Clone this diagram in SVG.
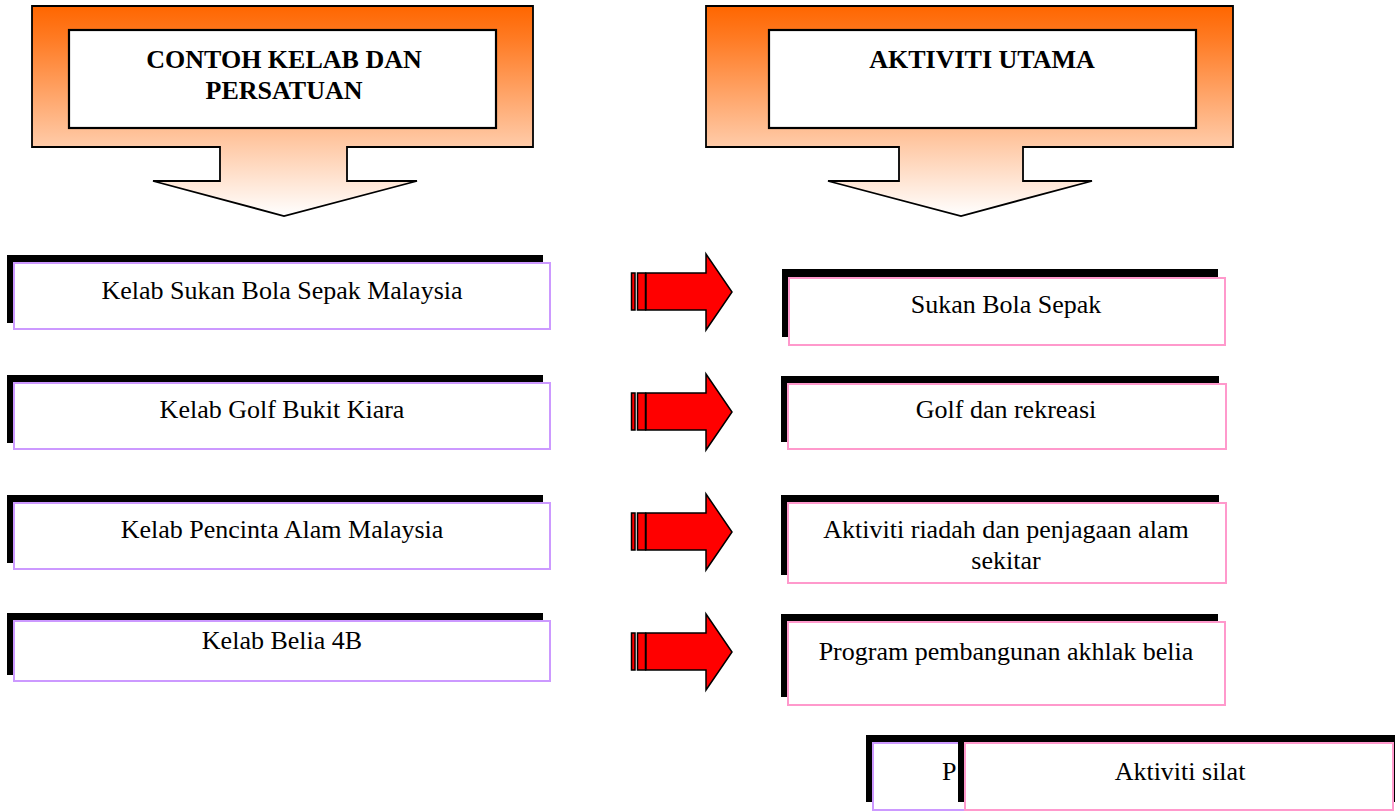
<svg xmlns="http://www.w3.org/2000/svg" width="1395" height="811" viewBox="0 0 1395 811">
<style>
.hdr{fill:url(#og);stroke:#000;stroke-width:1.8}
.inner{fill:#fff;stroke:#000;stroke-width:2.2}
.ht{font-family:"Liberation Serif","Times New Roman",serif;font-weight:bold;font-size:26px;fill:#000;text-anchor:middle}
.t{font-family:"Liberation Serif","Times New Roman",serif;font-size:26px;fill:#000;text-anchor:middle}
.sh{fill:#000}
.lb{fill:#fff;stroke:#CC99FF;stroke-width:2}
.rb{fill:#fff;stroke:#FF99CC;stroke-width:2}
.ra{fill:#FF0000;stroke:#000;stroke-width:1.5}
</style>
<defs>
<linearGradient id="og" x1="0" y1="6" x2="0" y2="216" gradientUnits="userSpaceOnUse">
<stop offset="0" stop-color="#FF6600"/>
<stop offset="0.15" stop-color="#FF7A22"/>
<stop offset="1" stop-color="#FFFFFF"/>
</linearGradient>
<g id="arrow">
<rect class="ra" x="631.5" y="273" width="3.5" height="37"/>
<rect class="ra" x="637.5" y="273" width="8" height="37"/>
<path class="ra" d="M646,273 H706 V254 L732,292 L706,330 V310 H646 Z"/>
</g>
</defs>

<g id="header-left">
<path class="hdr" d="M32,6 H533 V147 H347 V181 H417 L284,216 L153,181 H220 V147 H32 Z"/>
<rect class="inner" x="69" y="30" width="427" height="98"/>
<text class="ht" x="284" y="68">CONTOH KELAB DAN</text>
<text class="ht" x="284" y="99">PERSATUAN</text>
</g>

<g id="header-right">
<path class="hdr" d="M706,6 H1233 V147 H1023 V181 H1092 L961,216 L828,181 H899 V147 H706 Z"/>
<rect class="inner" x="769" y="30" width="427" height="98"/>
<text class="ht" x="982" y="68">AKTIVITI UTAMA</text>
</g>

<g id="connectors">
<use href="#arrow"/>
<use href="#arrow" y="120"/>
<use href="#arrow" y="240"/>
<use href="#arrow" y="360"/>
</g>

<g id="left1">
<rect class="sh" x="7" y="255" width="536" height="68"/>
<rect class="lb" x="14" y="263" width="536" height="66"/>
<text class="t" x="282" y="299">Kelab Sukan Bola Sepak Malaysia</text>
</g>
<g id="left2">
<rect class="sh" x="7" y="375" width="536" height="68"/>
<rect class="lb" x="14" y="383" width="536" height="66"/>
<text class="t" x="282" y="418">Kelab Golf Bukit Kiara</text>
</g>
<g id="left3">
<rect class="sh" x="7" y="495" width="536" height="68"/>
<rect class="lb" x="14" y="503" width="536" height="66"/>
<text class="t" x="282" y="538">Kelab Pencinta Alam Malaysia</text>
</g>
<g id="left4">
<rect class="sh" x="7" y="613" width="536" height="62"/>
<rect class="lb" x="14" y="621" width="536" height="60"/>
<text class="t" x="282" y="649">Kelab Belia 4B</text>
</g>

<g id="right1">
<rect class="sh" x="782" y="269" width="436" height="68"/>
<rect class="rb" x="789" y="278" width="436" height="67"/>
<text class="t" x="1006" y="313">Sukan Bola Sepak</text>
</g>
<g id="right2">
<rect class="sh" x="781" y="376" width="438" height="66"/>
<rect class="rb" x="788" y="384" width="438" height="65"/>
<text class="t" x="1006" y="418">Golf dan rekreasi</text>
</g>
<g id="right3">
<rect class="sh" x="781" y="495" width="438" height="80"/>
<rect class="rb" x="788" y="503" width="438" height="80"/>
<text class="t" x="1006" y="538">Aktiviti riadah dan penjagaan alam</text>
<text class="t" x="1006" y="569">sekitar</text>
</g>
<g id="right4">
<rect class="sh" x="781" y="614" width="437" height="83"/>
<rect class="rb" x="788" y="622" width="437" height="83"/>
<text class="t" x="1006" y="660">Program pembangunan akhlak belia</text>
</g>

<g id="bottom-hidden">
<rect class="sh" x="866" y="735" width="300" height="67"/>
<rect class="lb" x="873" y="743" width="300" height="67"/>
<text class="t" x="942" y="780" text-anchor="start" style="text-anchor:start">P</text>
</g>
<g id="bottom-silat">
<rect class="sh" x="958" y="735" width="440" height="67"/>
<rect class="rb" x="965" y="743" width="428" height="67"/>
<text class="t" x="1180" y="780">Aktiviti silat</text>
</g>
</svg>
